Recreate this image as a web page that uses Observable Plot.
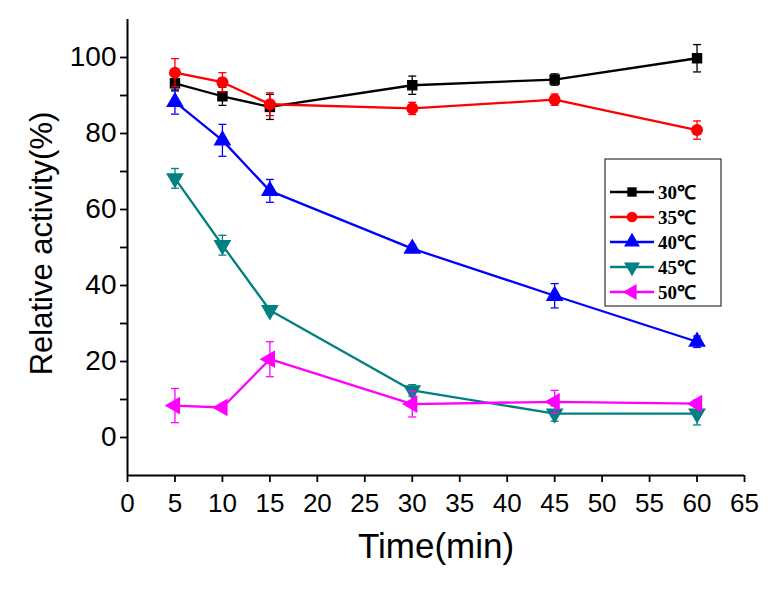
<!DOCTYPE html>
<html>
<head>
<meta charset="utf-8">
<script src="https://cdn.jsdelivr.net/npm/d3@7"></script>
<script src="https://cdn.jsdelivr.net/npm/@observablehq/plot@0.6"></script>
<style>
  html, body { margin: 0; padding: 0; background: #fff; }
  #wrap { position: relative; width: 779px; height: 591px; }
  #legend { position: absolute; left: 0; top: 0; }
</style>
</head>
<body>
<div id="wrap"></div>
<script>
// ---- data ----
const times = [5, 10, 15, 30, 45, 60];
const seriesNames = ["30℃", "35℃", "40℃", "45℃", "50℃"];
const seriesColors = ["#000000", "#ff0000", "#0000ff", "#008080", "#ff00ff"];
const v30 = [93.2, 89.8, 87.0, 92.7, 94.2, 99.8];
const e30 = [2.0, 2.4, 3.3, 2.4, 1.5, 3.6];
const v35 = [96.0, 93.5, 87.7, 86.6, 88.9, 80.9];
const e35 = [3.7, 2.5, 3.0, 1.6, 1.5, 2.4];
const v40 = [88.3, 78.2, 64.9, 49.7, 37.3, 25.2];
const e40 = [3.2, 4.2, 3.0, 1.0, 3.2, 1.5];
const v45 = [68.2, 50.6, 33.5, 12.4, 6.3, 6.3];
const e45 = [2.6, 2.6, 1.0, 1.5, 2.0, 3.0];
const v50 = [8.4, 7.9, 20.6, 8.8, 9.4, 8.9];
const e50 = [4.5, 0.6, 4.6, 3.4, 3.0, 1.0];
const xTicks = [0, 5, 10, 15, 20, 25, 30, 35, 40, 45, 50, 55, 60, 65];
const yTicks = [0, 20, 40, 60, 80, 100];
const yMinorTicks = [10, 30, 50, 70, 90];
const xLabel = "Time(min)";
const yLabel = "Relative activity(%)";

// custom symbols
const triDown = { draw(ctx, size) {
  const s = Math.sqrt(size / (Math.sqrt(3) / 4)); const h = s * Math.sqrt(3) / 2;
  ctx.moveTo(-s / 2, -h / 3); ctx.lineTo(s / 2, -h / 3); ctx.lineTo(0, 2 * h / 3); ctx.closePath(); } };
const triUp = { draw(ctx, size) {
  const s = Math.sqrt(size / (Math.sqrt(3) / 4)); const h = s * Math.sqrt(3) / 2;
  ctx.moveTo(-s / 2, h / 3); ctx.lineTo(s / 2, h / 3); ctx.lineTo(0, -2 * h / 3); ctx.closePath(); } };
const triLeft = { draw(ctx, size) {
  const s = Math.sqrt(size / (Math.sqrt(3) / 4)); const h = s * Math.sqrt(3) / 2;
  ctx.moveTo(h / 3, -s / 2); ctx.lineTo(h / 3, s / 2); ctx.lineTo(-2 * h / 3, 0); ctx.closePath(); } };
const seriesSymbols = ["square", "circle", triUp, triDown, triLeft];
const seriesR = [5.9, 6.0, 6.6, 6.6, 6.6];

const vals = [v30, v35, v40, v45, v50];
const errs = [e30, e35, e40, e45, e50];
const data = [];
seriesNames.forEach((s, i) => times.forEach((t, j) => data.push({
  series: s, idx: i, t, v: vals[i][j], e: errs[i][j]
})));

const capHalf = 0.42;
const marks = [];
seriesNames.forEach((s, i) => {
  const d = data.filter(r => r.idx === i);
  const c = seriesColors[i];
  marks.push(Plot.ruleX(d, {x: "t", y1: r => r.v - r.e, y2: r => r.v + r.e, stroke: c, strokeWidth: 1.3}));
  marks.push(Plot.link(d, {x1: r => r.t - capHalf, x2: r => r.t + capHalf, y1: r => r.v + r.e, y2: r => r.v + r.e, stroke: c, strokeWidth: 1.3}));
  marks.push(Plot.link(d, {x1: r => r.t - capHalf, x2: r => r.t + capHalf, y1: r => r.v - r.e, y2: r => r.v - r.e, stroke: c, strokeWidth: 1.3}));
  marks.push(Plot.line(d, {x: "t", y: "v", stroke: c, strokeWidth: 2.3}));
  marks.push(Plot.dot(d, {x: "t", y: "v", fill: c, stroke: "none", symbol: () => seriesSymbols[i], r: seriesR[i]}));
});

const chart = Plot.plot({
  width: 779,
  height: 591,
  marginLeft: 127,
  marginRight: 35,
  marginTop: 19,
  marginBottom: 116,
  style: { fontFamily: "'Liberation Sans', Arial, sans-serif", background: "#fff", overflow: "visible" },
  symbol: { type: "identity" },
  x: { domain: [0, 65] },
  y: { domain: [-10, 110] },
  marks: [
    Plot.axisX({ ticks: xTicks, tickFormat: d => String(d), tickSize: 7, tickPadding: 11, fontSize: 26, label: null, strokeWidth: 1.8 }),
    Plot.axisY({ ticks: yTicks, tickFormat: d => String(d), tickSize: 7, tickPadding: 4, fontSize: 28, label: null, strokeWidth: 1.8 }),
    Plot.axisY({ ticks: yMinorTicks, tickFormat: () => "", tickSize: 7, label: null, strokeWidth: 1.8 }),
    Plot.ruleX([0], { stroke: "#000", strokeWidth: 2 }),
    Plot.ruleY([-10], { stroke: "#000", strokeWidth: 2 }),
    ...marks,
    Plot.text([yLabel], { frameAnchor: "left", textAnchor: "middle", rotate: -90, dx: -85, dy: -4, fontSize: 31, fill: "#000" }),
    Plot.text([xLabel], { frameAnchor: "bottom", dy: 82, fontSize: 35, fill: "#000" })
  ]
});
document.getElementById("wrap").appendChild(chart);

// legend box inside plot area
const lg = d3.select("#wrap").append("svg").attr("id", "legend")
  .attr("width", 779).attr("height", 591).style("pointer-events", "none");
const bx = 605, by = 159, bw = 116, bh = 147;
lg.append("rect").attr("x", bx).attr("y", by).attr("width", bw).attr("height", bh)
  .attr("fill", "#fff").attr("stroke", "#333").attr("stroke-width", 1.2);
seriesNames.forEach((s, i) => {
  const yy = by + 33 + i * 25;
  const g = lg.append("g");
  g.append("line").attr("x1", bx + 5).attr("x2", bx + 49).attr("y1", yy).attr("y2", yy)
    .attr("stroke", seriesColors[i]).attr("stroke-width", 2.3);
  const sym = seriesSymbols[i];
  const type = sym === "square" ? d3.symbolSquare : sym === "circle" ? d3.symbolCircle : sym;
  g.append("path").attr("d", d3.symbol(type, Math.PI * seriesR[i] * seriesR[i] * 0.8)())
    .attr("transform", `translate(${bx + 27},${yy})`).attr("fill", seriesColors[i]);
  g.append("text").attr("x", bx + 53).attr("y", yy).attr("dy", "0.35em")
    .attr("font-family", "'Liberation Serif', 'Times New Roman', serif").attr("font-weight", "bold")
    .attr("font-size", 19).attr("fill", "#000").text(s);
});
</script>
</body>
</html>
